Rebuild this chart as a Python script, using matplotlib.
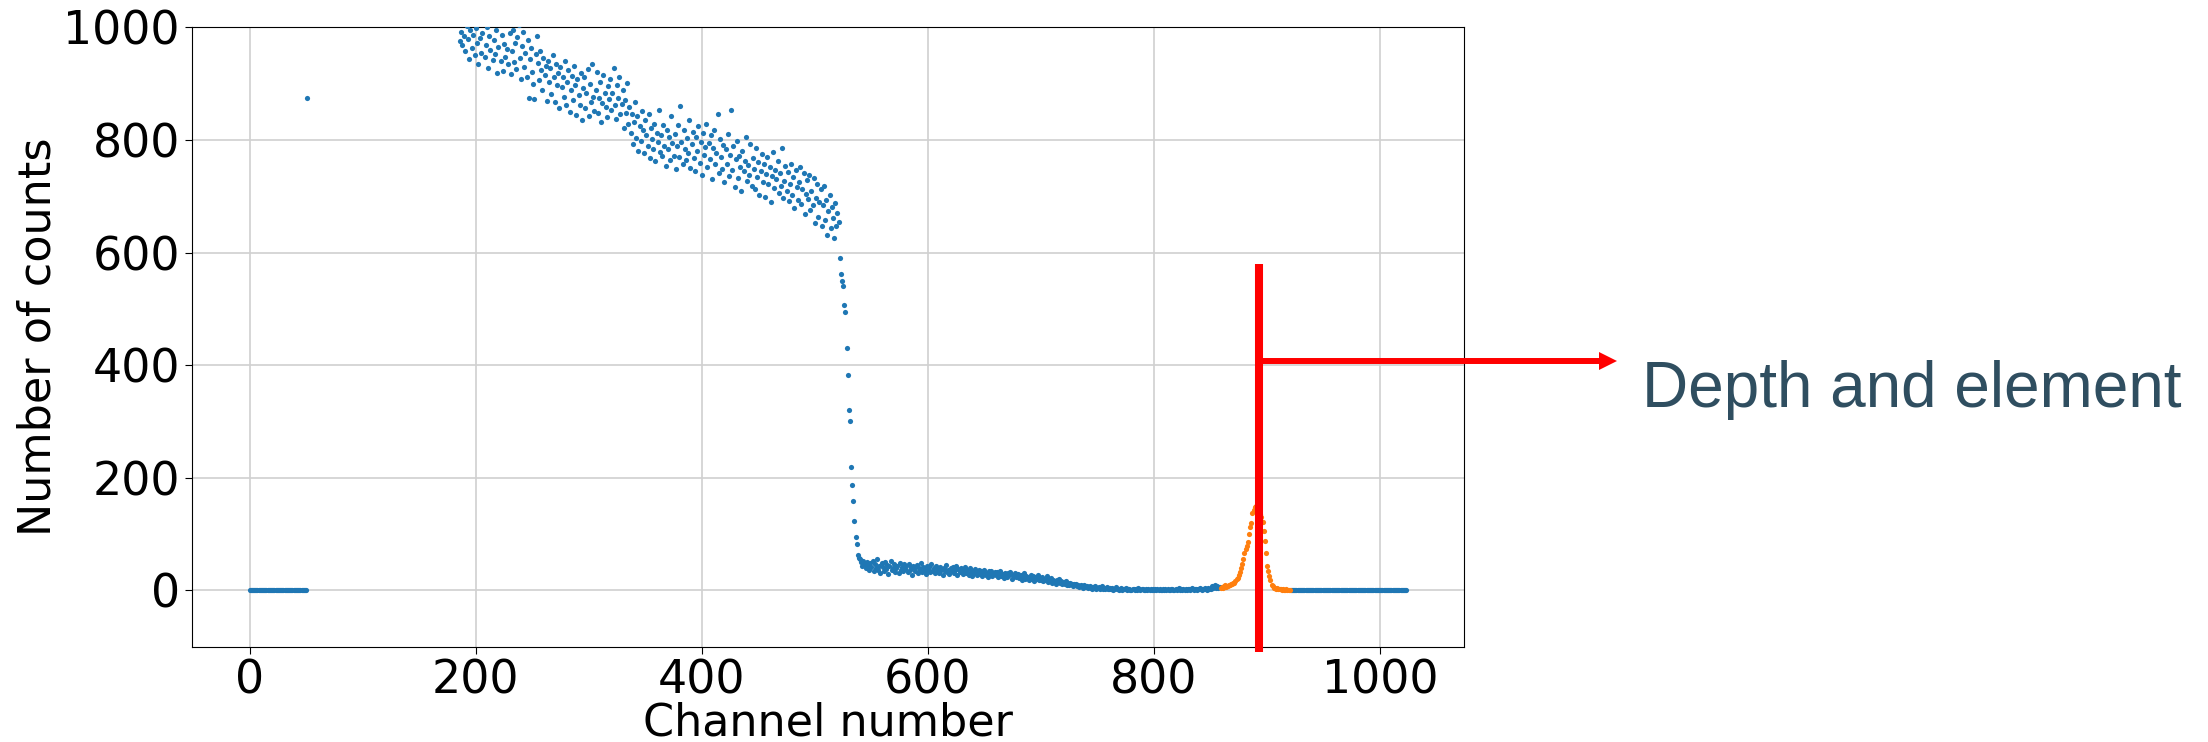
import numpy as np
import matplotlib
matplotlib.use('Agg')
from matplotlib import pyplot as plt

# spectrum counts, read channel by channel off the picture
flat_lo = [0] * 51                      # channels 0-50
spike = (51, 875)                       # lone point at channel 51

band_start = 186
band = [975, 992, 968, 1010, 985, 958, 1003, 979, 944, 996,
        1018, 963, 987, 951, 999, 972, 935, 1008, 981, 955,
        990, 1022, 947, 969, 1001, 928, 984, 960, 1013, 942,
        977, 953, 995, 918, 965, 1006, 940, 986, 923, 971,
        948, 1011, 962, 934, 989, 917, 958, 996, 939, 973,
        926, 982, 1004, 945, 908, 967, 991, 930, 955, 912,
        978, 874, 943, 963, 921, 900, 872, 952, 985, 936,
        907, 958, 924, 889, 946, 915, 931, 869, 940, 903,
        927, 881, 950, 912, 868, 935, 897, 918, 856, 929,
        894, 911, 876, 941, 862, 903, 925, 850, 889, 914,
        871, 932, 898, 845, 908, 880, 862, 919, 836, 893,
        912, 857, 884, 926, 843, 899, 868, 935, 876, 852,
        889, 920, 847, 875, 902, 831, 866, 916, 884, 858,
        841, 895, 872, 909, 853, 884, 927, 862, 838, 898,
        875, 912, 846, 863, 889, 822, 871, 848, 901, 829,
        858, 812, 846, 793, 831, 867, 804, 842, 781, 825,
        798, 852, 817, 776, 835, 809, 790, 846, 768, 821,
        801, 784, 829, 762, 812, 796, 853, 779, 808, 771,
        826, 790, 753, 818, 784, 806, 765, 843, 795, 772,
        811, 748, 789, 826, 770, 861, 797, 757, 818, 783,
        764, 803, 776, 835, 751, 792, 814, 768, 744, 806,
        781, 824, 759, 797, 738, 812, 773, 788, 829, 752,
        794, 766, 808, 731, 785, 818, 757, 776, 846, 741,
        802, 769, 748, 791, 725, 784, 758, 811, 736, 774,
        853, 747, 789, 716, 766, 798, 733, 771, 752, 709,
        781, 744, 763, 805, 727, 756, 738, 792, 719, 768,
        749, 712, 786, 734, 760, 702, 745, 775, 726, 757,
        698, 740, 769, 721, 752, 689, 736, 778, 714, 747,
        731, 762, 705, 742, 718, 785, 697, 727, 754, 710,
        743, 691, 722, 758, 703, 734, 679, 747, 716, 693,
        726, 752, 687, 712, 741, 668, 704, 729, 695, 738,
        675, 709, 684, 733, 652, 697, 721, 663, 690, 712,
        648, 685, 719, 657, 694, 631, 673, 702, 644, 681,
        662, 625, 688, 647, 670, 655]

# steep edge, channels 522-539
edge = [590, 562, 550, 541, 506, 495, 430, 383, 320, 300,
        220, 188, 158, 123, 95, 82, 62, 58]

# low tail, channels 540-858
tail = [56, 50, 44, 53, 47, 39, 51, 45, 36, 49,
        42, 52, 34, 46, 40, 55, 37, 44, 31, 48,
        41, 35, 50, 38, 45, 29, 43, 52, 36, 40,
        47, 33, 39, 44, 30, 49, 37, 42, 34, 46,
        38, 43, 32, 47, 36, 41, 28, 44, 39, 35,
        45, 31, 40, 37, 48, 33, 42, 36, 29, 43,
        37, 41, 32, 46, 35, 39, 30, 43, 34, 38,
        31, 42, 36, 28, 40, 34, 45, 33, 37, 29,
        39, 35, 41, 30, 36, 43, 27, 38, 33, 40,
        34, 29, 37, 42, 31, 36, 28, 39, 33, 26,
        35, 30, 38, 27, 33, 36, 29, 34, 25, 32,
        37, 28, 31, 24, 34, 29, 35, 26, 30, 33,
        27, 32, 23, 30, 35, 26, 29, 22, 31, 28,
        24, 30, 27, 33, 21, 28, 25, 31, 23, 26,
        29, 22, 27, 19, 25, 30, 21, 26, 24, 18,
        23, 27, 20, 25, 17, 24, 21, 28, 19, 22,
        18, 23, 16, 21, 19, 25, 15, 20, 17, 22,
        14, 19, 16, 12, 18, 15, 20, 13, 16, 11,
        15, 12, 17, 10, 13, 9, 14, 11, 8, 12,
        9, 11, 7, 10, 6, 9, 8, 5, 10, 7,
        6, 8, 4, 7, 5, 3, 6, 4, 7, 3,
        4, 6, 3, 5, 7, 2, 4, 3, 6, 2,
        3, 5, 2, 4, 1, 3, 6, 2, 3, 1,
        2, 4, 1, 3, 2, 5, 1, 2, 3, 0,
        1, 3, 2, 0, 2, 1, 4, 2, 1, 3,
        2, 0, 1, 3, 1, 2, 0, 2, 1, 3,
        1, 2, 0, 3, 1, 2, 1, 0, 2, 1,
        3, 1, 2, 0, 1, 2, 3, 1, 0, 2,
        1, 2, 4, 1, 2, 0, 3, 1, 2, 1,
        2, 3, 1, 2, 4, 1, 3, 2, 1, 3,
        2, 4, 1, 3, 2, 5, 3, 1, 4, 2,
        3, 8, 4, 6, 9, 5, 7, 4, 6]

# peak region (orange), channels 859-920
peak_start = 859
peak = [4, 6, 5, 7, 9, 6, 8, 10, 9, 12,
        11, 14, 13, 17, 20, 22, 28, 32, 40, 47,
        56, 66, 73, 79, 86, 100, 112, 120, 138, 142,
        148, 150, 145, 140, 143, 135, 130, 122, 106, 88,
        66, 44, 35, 26, 18, 10, 7, 5, 4, 3,
        4, 2, 3, 2, 1, 2, 1, 1, 2, 1,
        1, 1]

flat_hi = [0] * 103                     # channels 921-1023

# marker line + arrow annotation
marker_channel = 892.6
marker_span = (-109, 580)
arrow_y = 408
arrow_tip = 1209
note = 'Depth and element'

blue_y = flat_lo + [spike[1]] + band + edge + tail
blue_x = list(range(0, 52)) + list(range(band_start, band_start + len(band) + len(edge) + len(tail)))
hi_start = peak_start + len(peak)
blue_x += list(range(hi_start, hi_start + len(flat_hi)))
blue_y += flat_hi
peak_x = np.arange(peak_start, peak_start + len(peak))

fig = plt.figure(figsize=(22.08, 7.42), dpi=100)
ax = fig.add_axes([191.7 / 2208, 1 - 646.7 / 742, (1464 - 191.7) / 2208, (646.7 - 27.3) / 742])

ax.scatter(blue_x, blue_y, s=14, color='#1f77b4', linewidths=0, zorder=3)
ax.scatter(peak_x, peak, s=14, color='#ff7f0e', linewidths=0, zorder=3)

ax.set_ylim(-100, 1000)
ax.set_xlim(-51.15, 1074.15)
ax.set_xticks([0, 200, 400, 600, 800, 1000])
ax.set_yticks([0, 200, 400, 600, 800, 1000])
ax.grid(True, color='#d0d0d0', lw=1.2)
ax.set_axisbelow(True)
ax.tick_params(labelsize=33, length=5)

ax.set_xlabel('Channel number', fontsize=32)
ax.set_ylabel('Number of counts', fontsize=32)
ax.xaxis.set_label_coords(0.5, -0.088)
ax.yaxis.set_label_coords(-0.104, 0.5)

ax.plot([marker_channel, marker_channel], marker_span, color='red', lw=5.8,
        solid_capstyle='butt', clip_on=False, zorder=5)
ax.plot([marker_channel, arrow_tip - 14], [arrow_y, arrow_y], color='red', lw=4.3,
        solid_capstyle='butt', clip_on=False, zorder=5)
ax.plot([arrow_tip - 7.5], [arrow_y], marker='>', ms=13, color='red',
        clip_on=False, zorder=5, markeredgewidth=0)

fig.text(1642 / 2208, 1 - 407 / 742, note, fontsize=46, color='#2f4e60',
         family='Liberation Sans', va='baseline', ha='left')

fig.savefig('out.png', dpi=100)
